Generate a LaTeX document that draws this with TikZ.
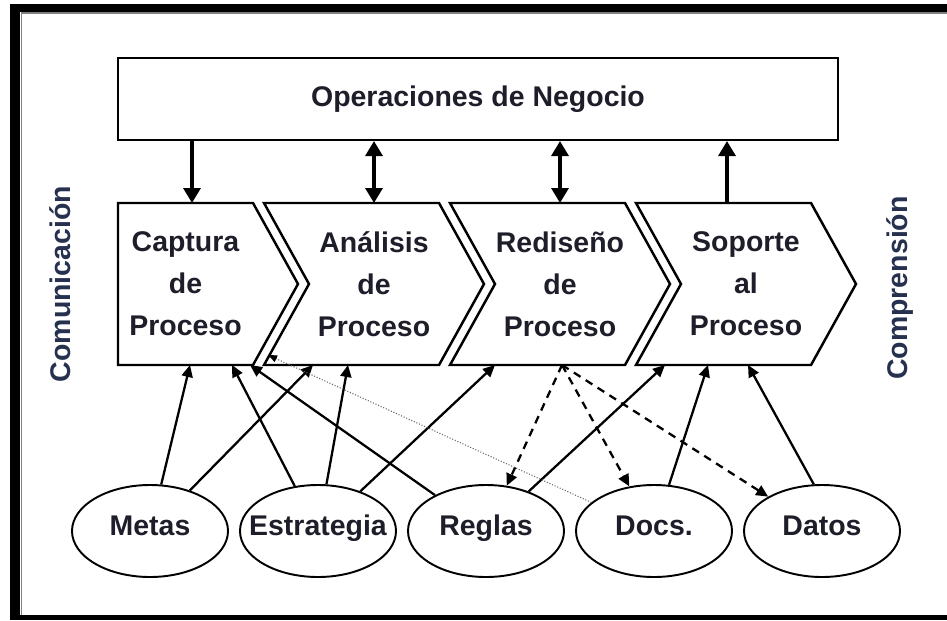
\documentclass[tikz,border=0pt]{standalone}
\usepackage{fontspec}
\setmainfont{Liberation Sans}
\usetikzlibrary{arrows.meta,positioning,shapes.geometric}
\definecolor{tinta}{HTML}{1E1E2A}
\definecolor{lateral}{HTML}{26304F}

\begin{document}
\begin{tikzpicture}[node distance= 1.12cm,
    texto/.style={font=\bfseries\fontsize{16.2}{23.8}\selectfont, text=tinta},
    paso/.style={draw=black, line width=1.4pt, line join=miter}]
      \useasboundingbox (0,0) rectangle (18.94,12.4);
      % marco
      \fill[black] (0.2,0) rectangle (0.4,12.32);
      \fill[black] (0.2,12.16) rectangle (18.94,12.32);
      \fill[black] (0.2,0) rectangle (18.94,0.1);
      \draw[gray, line width=0.8pt] (0.43,0.1) -- (0.43,12.14) -- (18.94,12.14);

      \node[texto, draw, line width=1.2pt, minimum width=14.4cm, minimum height=1.64cm] (ops) at (9.56,10.42) {Operaciones de Negocio};

      \begin{scope}[every node/.style={texto, align=center, minimum height=3.24cm, inner sep=0pt, outer sep=0pt}]
        \node[minimum width=2.7cm] (cap) at (3.71,6.72) {Captura\\de\\Proceso};
        \node[minimum width=2.6cm] (ana) [right= of cap] {Análisis\\de\\Proceso};
        \node[minimum width=2.6cm] (red) [right= of ana] {Rediseño\\de\\Proceso};
        \node[minimum width=2.6cm] (sop) [right= of red] {Soporte\\al\\Proceso};
      \end{scope}
      \draw[paso] (cap.north west) -- (cap.north east) -- ([xshift=0.9cm]cap.east) -- (cap.south east) -- (cap.south west) -- cycle;
      \draw[paso] ([xshift=-0.9cm]ana.north west) -- (ana.north east) -- ([xshift=0.9cm]ana.east) -- (ana.south east) -- ([xshift=-0.9cm]ana.south west) -- (ana.west) -- cycle;
      \draw[paso] ([xshift=-0.9cm]red.north west) -- (red.north east) -- ([xshift=0.9cm]red.east) -- (red.south east) -- ([xshift=-0.9cm]red.south west) -- (red.west) -- cycle;
      \draw[paso] ([xshift=-0.9cm]sop.north west) -- (sop.north east) -- ([xshift=0.9cm]sop.east) -- (sop.south east) -- ([xshift=-0.9cm]sop.south west) -- (sop.west) -- cycle;

      \begin{scope}[node distance= 3.36cm,
        every node/.style={texto, ellipse, draw, line width=1.1pt, minimum width=3.12cm, minimum height=1.84cm, inner sep=0pt, text height=0.72em, text depth=0.2em}]
        \node (metas) at (3.0,1.78) {Metas};
        \node (estr) [right of= metas] {\makebox[0pt]{Estrategia}};
        \node (reglas) [right of= estr] {Reglas};
        \node (docs) [right of= reglas] {Docs.};
        \node (datos) [right of= docs] {Datos};
      \end{scope}

      \node[texto, text=lateral, rotate=90] (com) at (1.2,6.72) {Comunicación};
      \node[texto, text=lateral, rotate=90] (comp) at (18.0,6.64) {Comprensión};

      \begin{scope}
        [every edge/.style={draw= black, line width=1.9pt},
        >={Triangle[length=0.3cm,width=0.34cm]}]
        \path ([xshift=0.13cm]cap.north |- ops.south) edge[->] ([xshift=0.13cm]cap.north);
        \path (ana.north |- ops.south) edge[<->] (ana.north);
        \path (red.north |- ops.south) edge[<->] (red.north);
        \path ([xshift=-0.38cm]sop.north |- ops.south) edge[<-] ([xshift=-0.38cm]sop.north);
      \end{scope}
      \begin{scope}
        [every edge/.style={draw= black, line width=1.3pt},
        >={Triangle[length=0.24cm,width=0.22cm]}]
        \path (metas) edge[->] ([xshift=0.09cm]cap.south);
        \path (metas) edge[->] ([xshift=-1.22cm]ana.south);
        \path (estr) edge[->] ([xshift=0.93cm]cap.south);
        \path (estr) edge[->] ([xshift=-0.52cm]ana.south);
        \path (estr) edge[->] ([xshift=-1.3cm]red.south);
        \path (reglas) edge[->] ([xshift=-0.06cm]cap.south east);
        \path (reglas) edge[->] ([xshift=-1.62cm]sop.south);
        \path (docs) edge[->] ([xshift=-0.76cm]sop.south);
        \path (datos.100) edge[->] ([xshift=0.04cm]sop.south);
      \end{scope}
      \begin{scope}
        [every edge/.style={draw= black, line width=1.3pt, dash pattern=on 4.5pt off 3.5pt},
        >={Triangle[length=0.24cm,width=0.22cm]}]
        \path ([xshift=0.04cm]red.south) edge[->] (reglas);
        \path ([xshift=0.04cm]red.south) edge[->] (docs);
        \path ([xshift=0.04cm]red.south) edge[->] (datos);
      \end{scope}
      \path (docs) edge[draw=gray!80!black, line width=0.6pt, densely dotted, -{Triangle[black,length=0.18cm,width=0.14cm]}] ([shift={(-0.82,0.2)}]ana.south west);
    \end{tikzpicture}
\end{document}
